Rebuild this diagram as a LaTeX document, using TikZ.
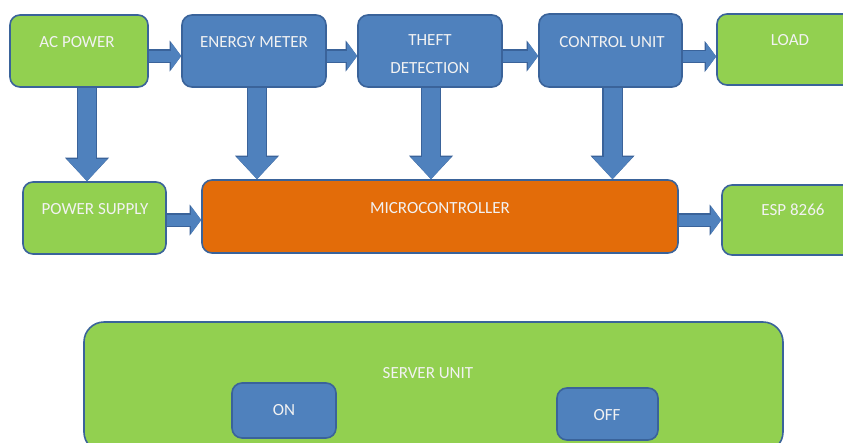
\documentclass[tikz,border=0pt]{standalone}
\usepackage{fontspec}
\setmainfont{Carlito}
\usetikzlibrary{arrows.meta}
\definecolor{gfill}{HTML}{92D050}
\definecolor{bfill}{HTML}{4F81BD}
\definecolor{bline}{HTML}{3A639A}
\definecolor{ofill}{HTML}{E36C09}
\definecolor{tcol}{HTML}{F2F2F2}
\tikzset{
  box/.style={rectangle, rounded corners=10pt, draw=bline, line width=1.6pt, inner sep=0pt},
  gbox/.style={box, fill=gfill},
  bbox/.style={box, fill=bfill},
  obox/.style={box, fill=ofill},
  txt/.style={text=tcol, font=\fontsize{17}{28}\selectfont, align=center, inner sep=0pt},
  harr/.style={draw=bfill, line width=11pt, -{Triangle[length=10pt,width=27pt,line width=0pt]},
    preaction={draw=bline, line width=13.5pt, -{Triangle[length=11.5pt,width=31pt,line width=0pt]}}},
  varr/.style={draw=bfill, line width=18pt, -{Triangle[length=22pt,width=40pt,line width=0pt]},
    preaction={draw=bline, line width=20.5pt, -{Triangle[length=23.5pt,width=44pt,line width=0pt]}}},
}
\begin{document}
\begin{tikzpicture}[x=1pt,y=-1pt]
\clip (0,0) rectangle (843,442);
\fill[white] (0,0) rectangle (843,442);
% boxes
\node[gbox, minimum width=138pt, minimum height=72pt] (ac) at (79,51) {};
\node[bbox, minimum width=144pt, minimum height=72pt] (em) at (254,51) {};
\node[bbox, minimum width=144pt, minimum height=72pt] (td) at (430,51) {};
\node[bbox, minimum width=143pt, minimum height=73pt] (cu) at (610.5,50.5) {};
\node[gbox, minimum width=146pt, minimum height=71pt] (ld) at (790,49.5) {};
\node[gbox, minimum width=143pt, minimum height=72pt] (ps) at (94.5,218) {};
\node[obox, minimum width=476pt, minimum height=73pt] (mc) at (440,216.5) {};
\node[gbox, minimum width=142pt, minimum height=70pt] (esp) at (793,220) {};
\node[gbox, rounded corners=20pt, minimum width=699pt, minimum height=130pt] (sv) at (433.5,387) {};
\node[bbox, minimum width=104pt, minimum height=55pt] (on) at (284,410.5) {};
\node[bbox, minimum width=101pt, minimum height=52pt] (off) at (607.5,414) {};
% texts
\node[txt] (acT) at (77,42) {AC POWER};
\node[txt] (emT) at (254,42) {ENERGY METER};
\node[txt] (tdT) at (430,54) {THEFT\\DETECTION};
\node[txt] (cuT) at (612,42) {CONTROL UNIT};
\node[txt] (ldT) at (790,40) {LOAD};
\node[txt] (psT) at (95,209) {POWER SUPPLY};
\node[txt] (mcT) at (440,208) {MICROCONTROLLER};
\node[txt] (espT) at (793,210) {ESP 8266};
\node[txt] (svT) at (428,373) {SERVER UNIT};
\node[txt] (onT) at (284,410) {ON};
\node[txt] (offT) at (607,415) {OFF};
% horizontal arrows
\draw[harr] ([yshift=-5pt]ac.east) -- ([yshift=-5pt]ac.east -| em.west);
\draw[harr] ([yshift=-5pt]em.east) -- ([yshift=-5pt]em.east -| td.west);
\draw[harr] ([yshift=-5pt]td.east) -- ([yshift=-5pt]td.east -| cu.west);
\draw[harr] ([yshift=-6pt]cu.east) -- ([yshift=-6pt]cu.east -| ld.west);
\draw[harr] ([yshift=-2pt]ps.east) -- ([yshift=-2pt]ps.east -| mc.west);
\draw[harr] ([yshift=-3.5pt]mc.east) -- ([yshift=-3.5pt]mc.east -| esp.west);
% vertical arrows
\draw[varr] ([xshift=8pt]ac.south) -- ([xshift=8pt]ac.south |- ps.north);
\draw[varr] ([xshift=3pt]em.south) -- ([xshift=3pt]em.south |- mc.north);
\draw[varr] ([xshift=1pt]td.south) -- ([xshift=1pt]td.south |- mc.north);
\draw[varr] ([xshift=2pt]cu.south) -- ([xshift=2pt]cu.south |- mc.north);
\end{tikzpicture}
\end{document}
